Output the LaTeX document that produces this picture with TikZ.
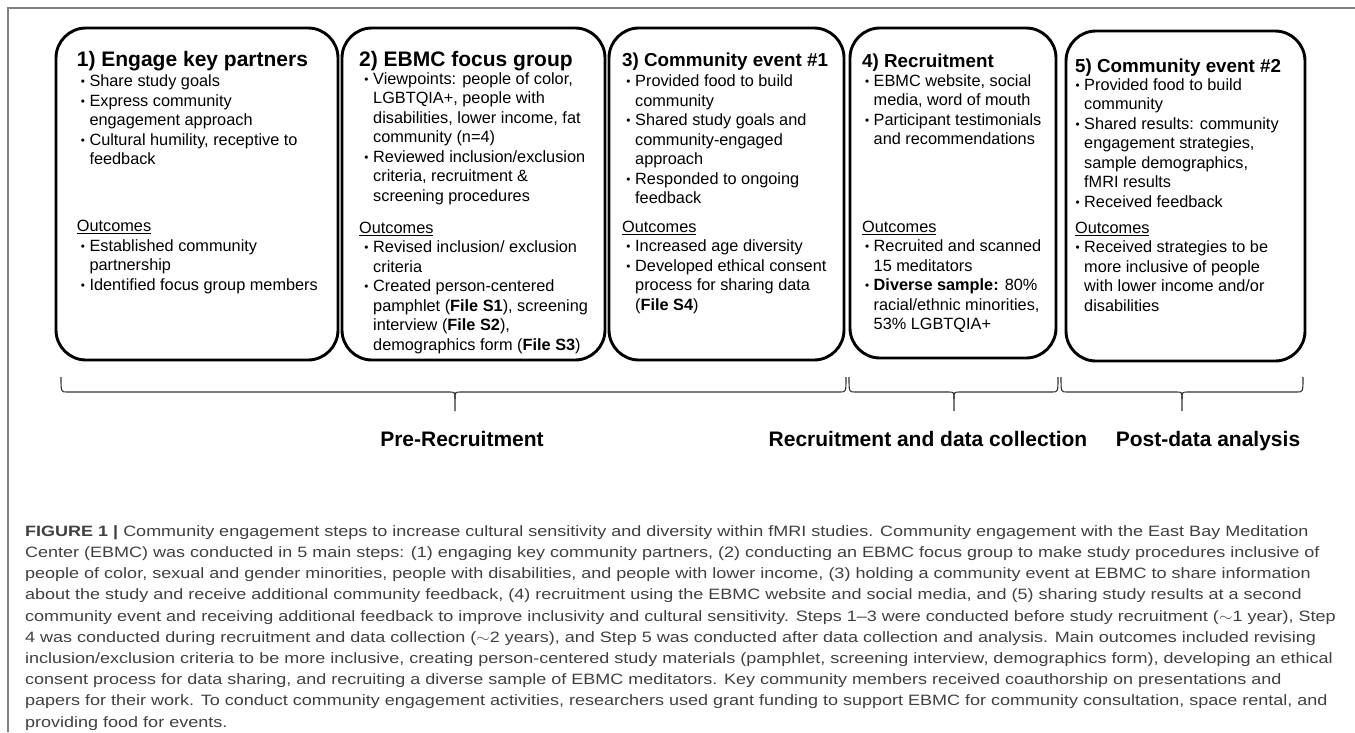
\documentclass[tikz,border=0pt]{standalone}
\usepackage{fontspec}
\setmainfont{Liberation Sans}
\usepackage{graphicx}
\definecolor{capgray}{HTML}{404040}
\definecolor{framegray}{HTML}{808080}
\definecolor{bracegray}{HTML}{333333}
\newlength\hind
% bullet set to the right of the hanging indent, and the indent for continuation lines
\newcommand\bpt{\makebox[\hind][r]{\raisebox{1pt}{\scalebox{0.72}{\textbullet}}\hspace{4.6pt}}}
\newcommand\bcn{\hspace*{\hind}}
\newcommand\bodyfont{\fontsize{16.3}{19.5}\selectfont}
\begin{document}
\begin{tikzpicture}[x=1pt,y=-1pt,
  stepbox/.style={draw=black, line width=2.9pt, rounded corners=30pt, inner sep=0pt},
  bigttl/.style={anchor=base west, inner sep=0pt, font=\bfseries\fontsize{21}{24}\selectfont},
  smallttl/.style={anchor=base west, inner sep=0pt, font=\bfseries\fontsize{18.8}{22}\selectfont},
  blk/.style={anchor=north west, inner sep=0pt, align=left},
  phase/.style={anchor=base, inner sep=0pt, font=\bfseries\fontsize{21}{24}\selectfont},
  bracestyle/.style={draw=bracegray, line width=1.1pt, line join=round}
]
\useasboundingbox (0,0) rectangle (1355,732);

% outer frame
\draw[framegray, line width=1.2pt] (8,732) -- (8,8) -- (1355,8);

% the five step boxes
\node[stepbox, minimum width=282pt, minimum height=332pt] (box1) at (197,194) {};
\node[stepbox, minimum width=263pt, minimum height=332pt] (box2) at (473.5,194) {};
\node[stepbox, minimum width=235pt, minimum height=332pt] (box3) at (726.5,194) {};
\node[stepbox, minimum width=206pt, minimum height=330pt] (box4) at (953,193) {};
\node[stepbox, minimum width=239pt, minimum height=330pt] (box5) at (1185.5,196) {};

% step 1
\node[bigttl] (t1) at (76.7,66.7) {1) Engage key partners};
\node[blk, font={\bodyfont\setlength\hind{12.6pt}}] (a1) at (76.7,73.05) {%
\strut\bpt Share study goals\\
\bpt Express community\\
\bcn engagement approach\\
\bpt Cultural humility, receptive to\\
\bcn feedback};
\node[blk, font={\bodyfont\setlength\hind{12.6pt}}] (o1) at (76.7,218.05) {%
\strut\underline{Outcomes}\\
\bpt Established community\\
\bcn partnership\\
\bpt Identified focus group members};

% step 2
\node[bigttl] (t2) at (359,66.7) {2) EBMC focus group};
\node[blk, font={\bodyfont\setlength\hind{14pt}}] (a2) at (359,70.35) {%
\strut\bpt Viewpoints: people of color,\\
\bcn LGBTQIA+, people with\\
\bcn disabilities, lower income, fat\\
\bcn community (n=4)\\
\bpt Reviewed inclusion/exclusion\\
\bcn criteria, recruitment \&\\
\bcn screening procedures};
\node[blk, font={\bodyfont\setlength\hind{14pt}}] (o2) at (359,219.35) {%
\strut\underline{Outcomes}\\
\bpt Revised inclusion/ exclusion\\
\bcn criteria\\
\bpt Created person-centered\\
\bcn pamphlet (\textbf{File S1}), screening\\
\bcn interview (\textbf{File S2}),\\
\bcn demographics form (\textbf{File S3})};

% step 3
\node[smallttl] (t3) at (622,66.7) {3) Community event \#1};
\node[blk, font={\bodyfont\setlength\hind{13pt}}] (a3) at (622,73.05) {%
\strut\bpt Provided food to build\\
\bcn community\\
\bpt Shared study goals and\\
\bcn community-engaged\\
\bcn approach\\
\bpt Responded to ongoing\\
\bcn feedback};
\node[blk, font={\bodyfont\setlength\hind{13pt}}] (o3) at (622,218.35) {%
\strut\underline{Outcomes}\\
\bpt Increased age diversity\\
\bpt Developed ethical consent\\
\bcn process for sharing data\\
\bcn (\textbf{File S4})};

% step 4
\node[smallttl] (t4) at (862,67) {4) Recruitment};
\node[blk, font={\bodyfont\setlength\hind{11.5pt}}] (a4) at (862,72.35) {%
\strut\bpt EBMC website, social\\
\bcn media, word of mouth\\
\bpt Participant testimonials\\
\bcn and recommendations};
\node[blk, font={\bodyfont\setlength\hind{11.5pt}}] (o4) at (862,218.35) {%
\strut\underline{Outcomes}\\
\bpt Recruited and scanned\\
\bcn 15 meditators\\
\bpt \textbf{Diverse sample:} 80\%\\
\bcn racial/ethnic minorities,\\
\bcn 53\% LGBTQIA+};

% step 5
\node[smallttl] (t5) at (1075,72) {5) Community event \#2};
\node[blk, font={\bodyfont\setlength\hind{9pt}}] (a5) at (1075,76.35) {%
\strut\bpt Provided food to build\\
\bcn community\\
\bpt Shared results: community\\
\bcn engagement strategies,\\
\bcn sample demographics,\\
\bcn fMRI results\\
\bpt Received feedback};
\node[blk, font={\bodyfont\setlength\hind{9pt}}] (o5) at (1075,219.35) {%
\strut\underline{Outcomes}\\
\bpt Received strategies to be\\
\bcn more inclusive of people\\
\bcn with lower income and/or\\
\bcn disabilities};

% phase braces
\draw[bracestyle] (61,377) .. controls (61,392) .. (67,392) -- (449,392) .. controls (455,392) .. (455,399) -- (455,411);
\draw[bracestyle] (846,377) .. controls (846,392) .. (840,392) -- (461,392) .. controls (455,392) .. (455,399);
\draw[bracestyle] (849,377) .. controls (849,392) .. (855,392) -- (948,392) .. controls (954,392) .. (954,399) -- (954,411);
\draw[bracestyle] (1058,377) .. controls (1058,392) .. (1052,392) -- (960,392) .. controls (954,392) .. (954,399);
\draw[bracestyle] (1061,377) .. controls (1061,392) .. (1067,392) -- (1176,392) .. controls (1182,392) .. (1182,399) -- (1182,411);
\draw[bracestyle] (1303,377) .. controls (1303,392) .. (1297,392) -- (1188,392) .. controls (1182,392) .. (1182,399);

\node[phase] (p1) at (462,446) {Pre-Recruitment};
\node[phase] (p2) at (928,446) {Recruitment and data collection};
\node[phase] (p3) at (1208,446) {Post-data analysis};

% caption
\node[anchor=north west, inner sep=0pt, text=capgray] (cap) at (25,521.16) {\scalebox{1.2}[1]{\fontsize{15}{21.2}\selectfont\begin{tabular}{@{}l@{}}
\textbf{FIGURE 1 |} Community engagement steps to increase cultural sensitivity and diversity within fMRI studies. Community engagement with the East Bay Meditation\\
Center (EBMC) was conducted in 5 main steps: (1) engaging key community partners, (2) conducting an EBMC focus group to make study procedures inclusive of\\
people of color, sexual and gender minorities, people with disabilities, and people with lower income, (3) holding a community event at EBMC to share information\\
about the study and receive additional community feedback, (4) recruitment using the EBMC website and social media, and (5) sharing study results at a second\\
community event and receiving additional feedback to improve inclusivity and cultural sensitivity. Steps 1\textendash3 were conducted before study recruitment ($\sim$1 year), Step\\
4 was conducted during recruitment and data collection ($\sim$2 years), and Step 5 was conducted after data collection and analysis. Main outcomes included revising\\
inclusion/exclusion criteria to be more inclusive, creating person-centered study materials (pamphlet, screening interview, demographics form), developing an ethical\\
consent process for data sharing, and recruiting a diverse sample of EBMC meditators. Key community members received coauthorship on presentations and\\
papers for their work. To conduct community engagement activities, researchers used grant funding to support EBMC for community consultation, space rental, and\\
providing food for events.
\end{tabular}}};
\end{tikzpicture}
\end{document}
